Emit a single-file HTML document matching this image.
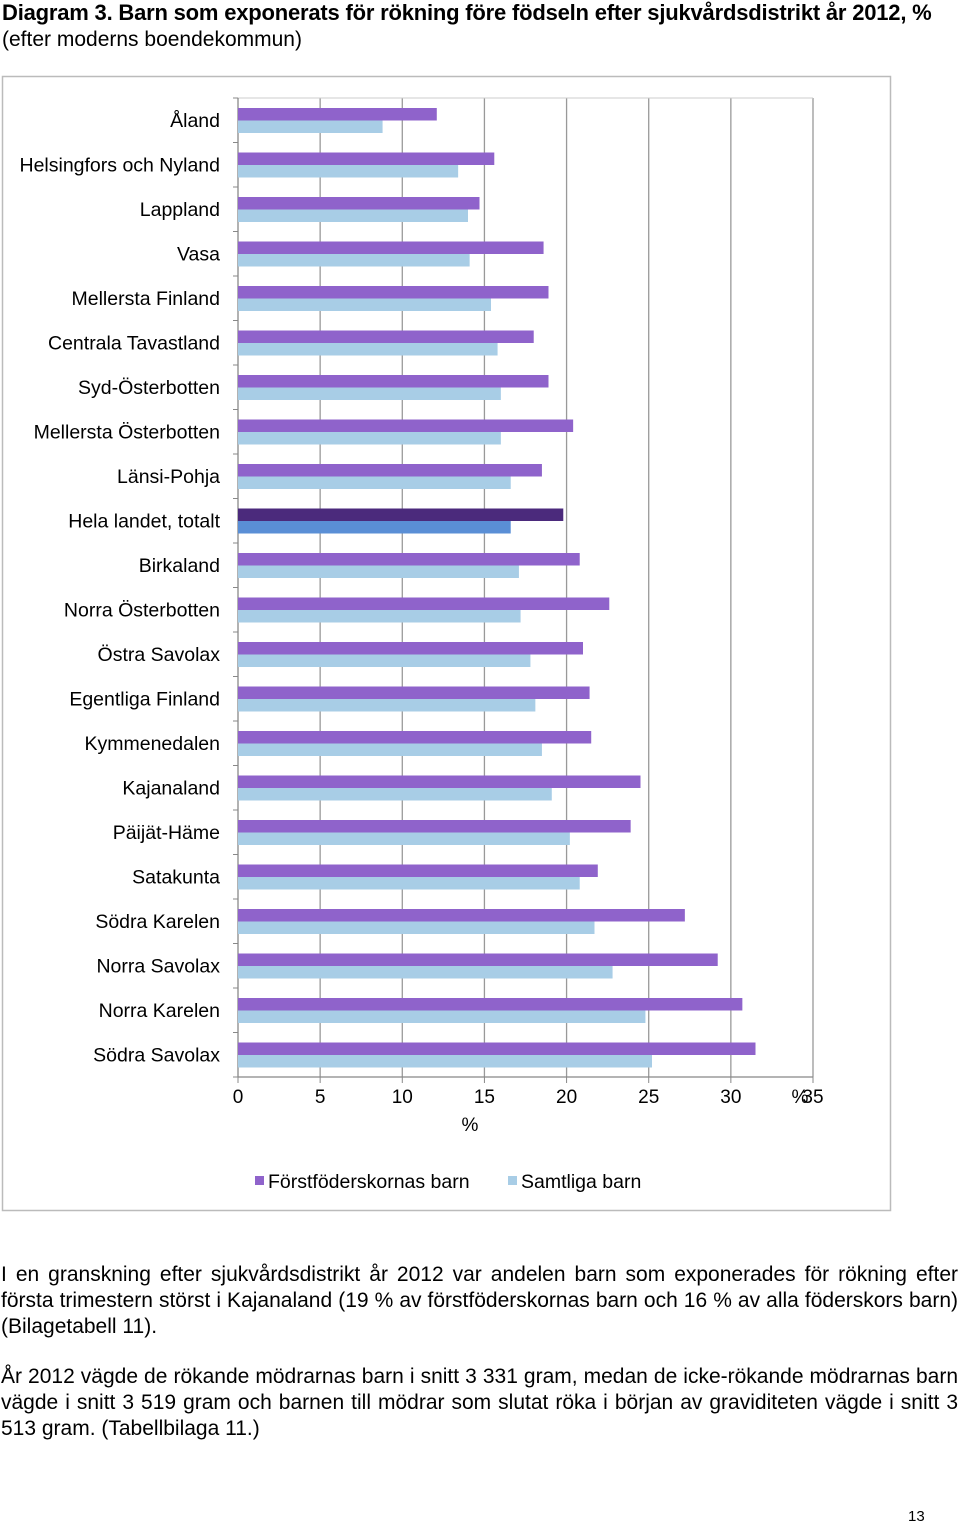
<!DOCTYPE html>
<html><head><meta charset="utf-8"><style>
body{margin:0;width:960px;height:1525px;background:#fff;font-family:"Liberation Sans",sans-serif;position:relative;overflow:hidden}
.t{position:absolute;color:#000}
</style></head><body>
<div class="t" style="left:2px;top:0;font-size:20px;line-height:25px;width:958px"><b style="font-size:22px;letter-spacing:-0.2px">Diagram 3. Barn som exponerats för rökning före födseln efter sjukvårdsdistrikt år 2012, %</b><br><span style="font-size:21px">(efter moderns boendekommun)</span></div>
<svg id="ch" width="960" height="1240" style="position:absolute;left:0;top:0" font-family="Liberation Sans, sans-serif"></svg>
<div class="t" style="left:1px;top:1262px;width:957px;font-size:21px;line-height:26px;text-align:justify">I en granskning efter sjukvårdsdistrikt år 2012 var andelen barn som exponerades för rökning efter första trimestern störst i Kajanaland (19 % av förstföderskornas barn och 16 % av alla föderskors barn) (Bilagetabell 11).</div>
<div class="t" style="left:1px;top:1364px;width:957px;font-size:21px;line-height:26px;text-align:justify">År 2012 vägde de rökande mödrarnas barn i snitt 3 331 gram, medan de icke-rökande mödrarnas barn vägde i snitt 3 519 gram och barnen till mödrar som slutat röka i början av graviditeten vägde i snitt 3 513 gram. (Tabellbilaga 11.)</div>
<div class="t" style="left:908px;top:1508px;font-size:15px">13</div>
<script>
const categories=["Åland","Helsingfors och Nyland","Lappland","Vasa","Mellersta Finland","Centrala Tavastland","Syd-Österbotten","Mellersta Österbotten","Länsi-Pohja","Hela landet, totalt","Birkaland","Norra Österbotten","Östra Savolax","Egentliga Finland","Kymmenedalen","Kajanaland","Päijät-Häme","Satakunta","Södra Karelen","Norra Savolax","Norra Karelen","Södra Savolax"];
const firstBorn=[12.1,15.6,14.7,18.6,18.9,18.0,18.9,20.4,18.5,19.8,20.8,22.6,21.0,21.4,21.5,24.5,23.9,21.9,27.2,29.2,30.7,31.5];
const allBirths=[8.8,13.4,14.0,14.1,15.4,15.8,16.0,16.0,16.6,16.6,17.1,17.2,17.8,18.1,18.5,19.1,20.2,20.8,21.7,22.8,24.8,25.2];
const ticks=[0,5,10,15,20,25,30,35];
const svg=document.getElementById('ch');const NS='http://www.w3.org/2000/svg';
function mk(tag,a,name,txt){const e=document.createElementNS(NS,tag);for(const k in a)e.setAttribute(k,a[k]);


if(txt!==undefined)e.textContent=txt;svg.appendChild(e);return e;}
const x0=238,unit=(813-238)/35,plotTop=98,band=44.5,plotBottom=plotTop+band*categories.length;
const X=v=>x0+v*unit,Y=i=>plotTop+i*band;
mk('rect',{x:2.5,y:76.5,width:888,height:1134,fill:'none',stroke:'#bbb','stroke-width':1.5},'chart-border');
ticks.forEach(t=>{if(t>0)mk('line',{x1:X(t),x2:X(t),y1:plotTop,y2:plotBottom,stroke:'#999','stroke-width':1.3},'gridline');
mk('line',{x1:X(t),x2:X(t),y1:plotBottom,y2:plotBottom+6,stroke:'#888'},'x-tick');
mk('text',{x:X(t),y:plotBottom+26,'font-size':19,'text-anchor':'middle'},'x-tick-label',String(t));});
mk('line',{x1:x0,x2:813,y1:plotTop,y2:plotTop,stroke:'#ccc'},'plot-top');
mk('line',{x1:x0,x2:x0,y1:plotTop,y2:plotBottom,stroke:'#888','stroke-width':1.3},'y-axis');
mk('line',{x1:x0,x2:813,y1:plotBottom,y2:plotBottom,stroke:'#888','stroke-width':1.3},'x-axis');
mk('text',{x:800,y:plotBottom+26,'font-size':19,'text-anchor':'middle'},'x-axis-unit','%');
mk('text',{x:470,y:plotBottom+54,'font-size':19,'text-anchor':'middle'},'x-axis-title','%');
categories.forEach((c,i)=>{
mk('line',{x1:x0-5,x2:x0,y1:Y(i),y2:Y(i),stroke:'#888'},'y-tick');
const tot=c.startsWith('Hela');
mk('rect',{x:x0,y:Y(i)+10,width:X(firstBorn[i])-x0,height:12.5,fill:tot?'#4b2a7c':'#8f63cb'},'bar-firstborn');
mk('rect',{x:x0,y:Y(i)+22.5,width:X(allBirths[i])-x0,height:12.5,fill:tot?'#5a8fd6':'#a8cde6'},'bar-all');
mk('text',{x:220,y:Y(i)+29,'font-size':19.5,'text-anchor':'end'},'category-label',c);});
mk('line',{x1:x0-5,x2:x0,y1:plotBottom,y2:plotBottom,stroke:'#888'},'y-tick');
mk('rect',{x:255,y:1176,width:9,height:9,fill:'#8f63cb'},'legend-swatch-firstborn');
mk('text',{x:268,y:1188,'font-size':19.5},'legend-label-firstborn','Förstföderskornas barn');
mk('rect',{x:508,y:1176,width:9,height:9,fill:'#a8cde6'},'legend-swatch-all');
mk('text',{x:521,y:1188,'font-size':19.5},'legend-label-all','Samtliga barn');
</script>
</body></html>
